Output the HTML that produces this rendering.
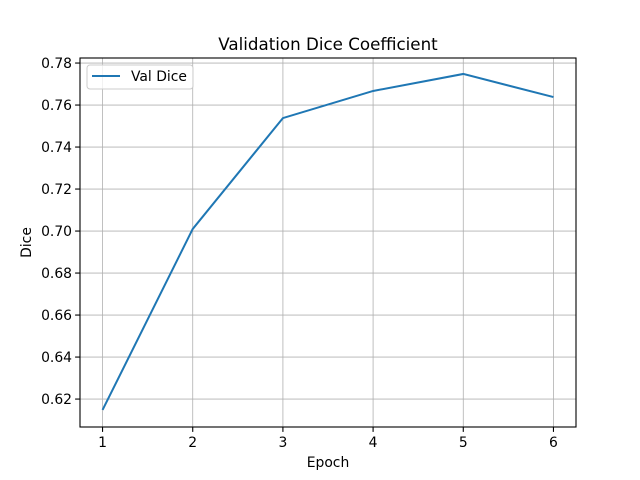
<!DOCTYPE html>
<html><head><meta charset="utf-8"><style>
html,body{margin:0;padding:0;background:#fff;}
svg{display:block;font-family:"DejaVu Sans","Liberation Sans",sans-serif;}
</style></head><body>
<svg id="chart" width="640" height="480" viewBox="0 0 640 480"></svg>
<script>
const epochs = [1, 2, 3, 4, 5, 6];
const diceValues = [0.6148, 0.701, 0.7538, 0.7667, 0.7748, 0.7638];
const xTicks = [1, 2, 3, 4, 5, 6];
const yTicks = [0.62, 0.64, 0.66, 0.68, 0.70, 0.72, 0.74, 0.76, 0.78];

const L = 80, R = 576, T = 58, B = 427;
const xMin = 0.75, xMax = 6.25, yMin = 0.6067, yMax = 0.7824;
const xs = v => L + (v - xMin) / (xMax - xMin) * (R - L);
const ys = v => B - (v - yMin) / (yMax - yMin) * (B - T);
const NS = "http://www.w3.org/2000/svg";
const svg = document.getElementById('chart');
function mk(tag, attrs, parent) {
  const e = document.createElementNS(NS, tag);
  for (const k in attrs) e.setAttribute(k, attrs[k]);
  (parent || svg).appendChild(e);
  return e;
}
const grid = mk('g', {});


xTicks.forEach(t => {
  const x = xs(t);
  const g = mk('line', {x1: x, x2: x, y1: T, y2: B, stroke: '#b0b0b0', 'stroke-width': 0.8}, grid);
  
  
  mk('line', {x1: x, x2: x, y1: B, y2: B + 4.9, stroke: '#000', 'stroke-width': 1.1});
  const tx = mk('text', {x: x, y: B + 20, 'text-anchor': 'middle', 'font-size': 13.9, fill: '#000'});
  tx.textContent = t;
  
  
});
yTicks.forEach(t => {
  const y = ys(t);
  const g = mk('line', {x1: L, x2: R, y1: y, y2: y, stroke: '#b0b0b0', 'stroke-width': 0.8}, grid);
  
  
  mk('line', {x1: L - 4.9, x2: L, y1: y, y2: y, stroke: '#000', 'stroke-width': 1.1});
  const tx = mk('text', {x: L - 8, y: y + 5, 'text-anchor': 'end', 'font-size': 13.9, fill: '#000'});
  tx.textContent = t.toFixed(2);
  
  
});
const line = mk('polyline', {points: epochs.map((e, i) => xs(e) + ',' + ys(diceValues[i])).join(' '), fill: 'none', stroke: '#1f77b4', 'stroke-width': 2});


const frame = mk('rect', {x: L, y: T, width: R - L, height: B - T, fill: 'none', stroke: '#000', 'stroke-width': 1.1});


const title = mk('text', {x: (L + R) / 2, y: 50, 'text-anchor': 'middle', 'font-size': 16.7, fill: '#000'});
title.textContent = 'Validation Dice Coefficient';


const xl = mk('text', {x: (L + R) / 2, y: 467, 'text-anchor': 'middle', 'font-size': 13.9, fill: '#000'});
xl.textContent = 'Epoch';


const yl = mk('text', {x: 31, y: (T + B) / 2, 'text-anchor': 'middle', 'font-size': 13.9, fill: '#000', transform: 'rotate(-90 31 ' + (T + B) / 2 + ')'});
yl.textContent = 'Dice';


const leg = mk('g', {});


mk('rect', {x: 87, y: 65, width: 106, height: 24, rx: 3, fill: '#fff', 'fill-opacity': 0.8, stroke: '#ccc', 'stroke-width': 1}, leg);
mk('line', {x1: 92, x2: 120, y1: 76, y2: 76, stroke: '#1f77b4', 'stroke-width': 2}, leg);
const lt = mk('text', {x: 131, y: 81, 'font-size': 13.9, fill: '#000'}, leg);
lt.textContent = 'Val Dice';


</script>
</body></html>
